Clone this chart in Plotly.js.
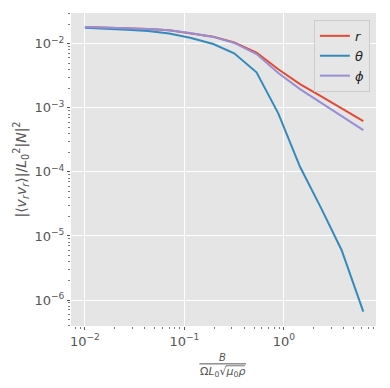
<!DOCTYPE html>
<html>
<head>
<meta charset="utf-8">
<script src="https://cdn.plot.ly/plotly-3.0.1.min.js"></script>
<style>
  body { margin: 0; padding: 0; background: #fff; }
  #chart { width: 390px; height: 388px; }
</style>
</head>
<body>
<div id="chart"></div>
<script>
// field strength B / (Omega L0 sqrt(mu0 rho))
var bField = [0.01, 0.0163, 0.0265, 0.0431, 0.0701, 0.114, 0.195, 0.316, 0.53, 0.877, 1.45, 2.37, 3.8, 6.27];

// |<v v>| / L0^2 |N|^2 for each component
var compR = [0.0183, 0.0180, 0.0176, 0.0170, 0.0162, 0.0147, 0.0129, 0.0105, 0.0073, 0.0040, 0.00235, 0.00151, 0.00097, 0.00062];
var compTheta = [0.0177, 0.0172, 0.0166, 0.0158, 0.0145, 0.0124, 0.0099, 0.0071, 0.00358, 0.00082, 1.2e-4, 2.7e-5, 6.0e-6, 6.6e-7];
var compPhi = [0.0183, 0.0180, 0.0176, 0.0170, 0.0162, 0.0147, 0.0128, 0.0103, 0.0069, 0.0035, 0.00196, 0.00121, 0.00074, 0.00045];

var seriesNames = ['<i>r</i>', '<i>θ</i>', '<i>ϕ</i>'];
var seriesColors = ['#E24A33', '#348ABD', '#988ED5'];
var seriesValues = [compR, compTheta, compPhi];

// tick positions and labels
var xTickVals = [0.01, 0.1, 1];
var xTickText = ['10<sup>−2</sup>', '10<sup>−1</sup>', '10<sup>0</sup>'];
var yTickVals = [1e-6, 1e-5, 1e-4, 1e-3, 1e-2];
var yTickText = ['10<sup>−6</sup>', '10<sup>−5</sup>', '10<sup>−4</sup>', '10<sup>−3</sup>', '10<sup>−2</sup>'];

var data = [];
for (var i = 0; i < seriesValues.length; i++) {
    data.push({
        x: bField,
        y: seriesValues[i],
        name: seriesNames[i],
        type: 'scatter',
        mode: 'lines',
        line: { color: seriesColors[i], width: 2 }
    });
}

var axisCommon = {
    type: 'log',
    showgrid: true,
    gridcolor: '#ffffff',
    gridwidth: 1.2,
    zeroline: false,
    showline: false,
    ticks: 'outside',
    ticklen: 3,
    tickcolor: '#555555',
    tickmode: 'array',
    tickfont: { family: 'DejaVu Sans', size: 13, color: '#555555' },
    minor: { ticks: 'outside', ticklen: 2, tickcolor: '#777777', dtick: 'D1', showgrid: false }
};

var layout = {
    width: 390,
    height: 388,
    margin: { l: 71, r: 14, t: 13, b: 62 },
    paper_bgcolor: '#ffffff',
    plot_bgcolor: '#E5E5E5',
    showlegend: true,
    legend: {
        x: 0.98,
        y: 0.978,
        xanchor: 'right',
        yanchor: 'top',
        itemwidth: 30,
        bgcolor: 'rgba(229,229,229,0.9)',
        bordercolor: '#cccccc',
        borderwidth: 1,
        font: { family: 'DejaVu Sans', size: 13, color: '#222222' }
    },
    xaxis: Object.assign({}, axisCommon, {
        range: [-2.14, 0.925],
        tickvals: xTickVals,
        ticktext: xTickText
    }),
    yaxis: Object.assign({}, axisCommon, {
        range: [-6.405, -1.52],
        tickvals: yTickVals,
        ticktext: yTickText,
        title: {
            text: '|⟨<i>v<sub>r</sub>v<sub>r</sub></i>⟩|/<i>L</i><sub>0</sub><sup>2</sup>|<i>N</i>|<sup>2</sup>',
            font: { family: 'DejaVu Sans', size: 14, color: '#555555' },
            standoff: 4
        }
    }),
    annotations: [
        {
            xref: 'paper', yref: 'paper', x: 0.497, y: -0.1,
            xanchor: 'center', yanchor: 'middle',
            text: '<i>B</i>', showarrow: false,
            font: { family: 'DejaVu Sans', size: 10, color: '#555555' }
        },
        {
            xref: 'paper', yref: 'paper', x: 0.497, y: -0.147,
            xanchor: 'center', yanchor: 'middle',
            text: 'Ω<i>L</i><sub>0</sub>√<i>μ</i><sub>0</sub><i>ρ</i>', showarrow: false,
            font: { family: 'DejaVu Sans', size: 11, color: '#555555' }
        }
    ],
    shapes: [
        {
            type: 'line', xref: 'paper', yref: 'paper',
            x0: 0.421, x1: 0.574, y0: -0.121, y1: -0.121,
            line: { color: '#555555', width: 1 }
        },
        {
            type: 'line', xref: 'paper', yref: 'paper',
            x0: 0.508, x1: 0.57, y0: -0.127, y1: -0.127,
            line: { color: '#555555', width: 0.8 }
        }
    ]
};

Plotly.newPlot('chart', data, layout, { displayModeBar: false });
</script>
</body>
</html>
